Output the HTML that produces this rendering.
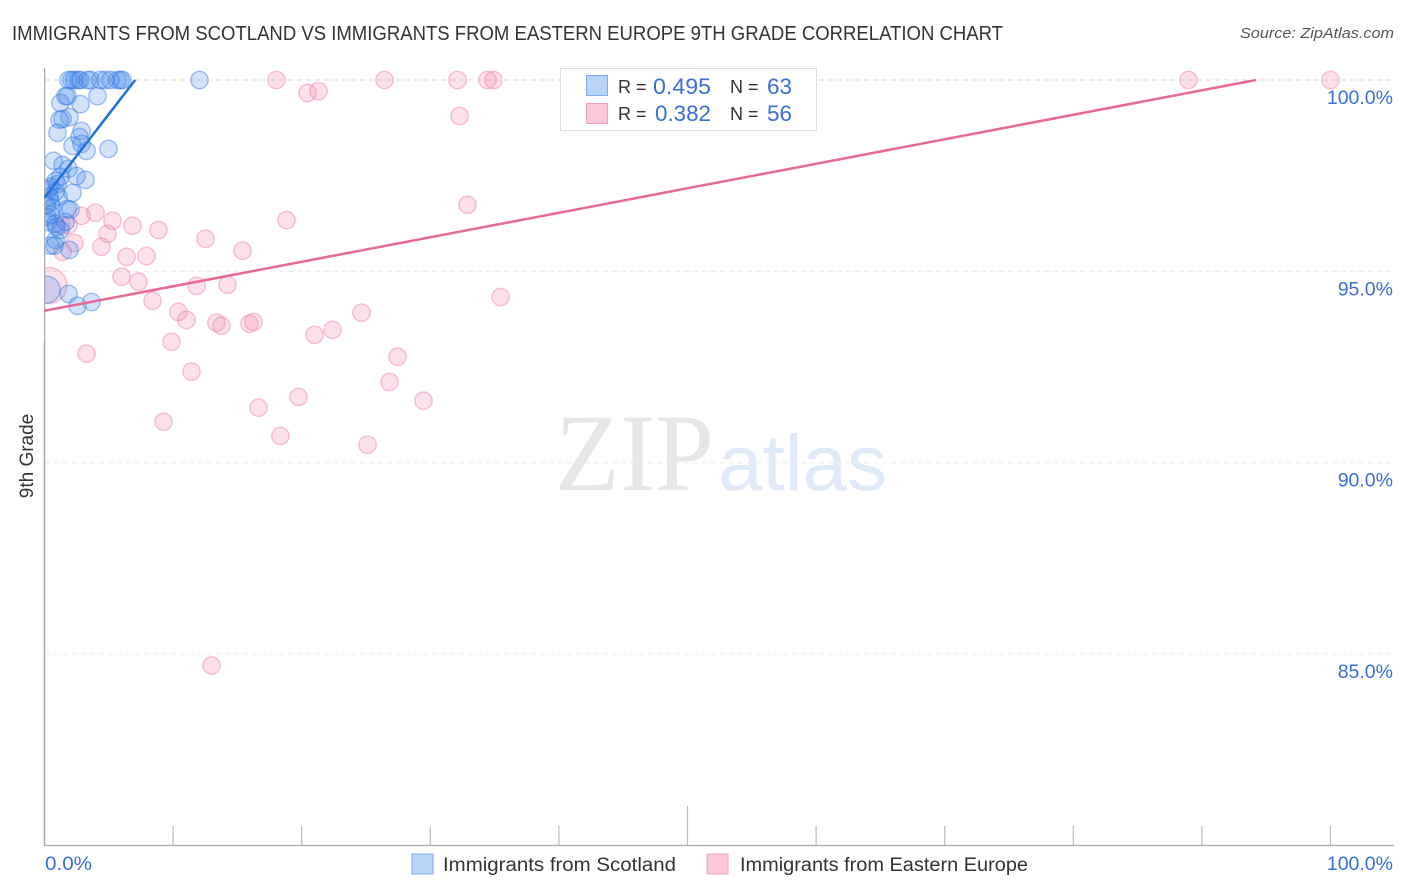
<!DOCTYPE html>
<html lang="en">
<head>
<meta charset="utf-8">
<title>Immigrants from Scotland vs Immigrants from Eastern Europe 9th Grade Correlation Chart</title>
<style>
html,body{margin:0;padding:0;background:#fff;width:1406px;height:892px;overflow:hidden}
body{position:relative}
svg{display:block;font-family:"Liberation Sans",sans-serif}
#left-mask{position:absolute;left:0;top:60px;width:44px;height:280px;background:#fff;z-index:5}
</style>
</head>
<body>
<svg id="chart" width="1406" height="892" viewBox="0 0 1406 892">
<text x="12" y="40" font-size="20" fill="#333" textLength="991" lengthAdjust="spacingAndGlyphs">IMMIGRANTS FROM SCOTLAND VS IMMIGRANTS FROM EASTERN EUROPE 9TH GRADE CORRELATION CHART</text>
<text x="1394" y="38" font-size="15" font-style="italic" fill="#555" text-anchor="end" textLength="154" lengthAdjust="spacingAndGlyphs">Source: ZipAtlas.com</text>
<text x="555" y="490" font-family="'Liberation Serif',serif" font-size="110" fill="#e6e6e6" textLength="159" lengthAdjust="spacingAndGlyphs">ZIP</text>
<text x="718" y="490" font-size="79" fill="#dfe9f8" textLength="169" lengthAdjust="spacingAndGlyphs">atlas</text>
<g id="grid"></g>
<g id="points-pink"></g>
<g id="points-blue"></g>
<rect x="0" y="60" width="44" height="280" fill="#fff"/>
<g id="axes"></g>
<g id="trends"></g>
<text x="33" y="456" font-size="19" fill="#333" text-anchor="middle" transform="rotate(-90 33 456)">9th Grade</text>

<g>
<rect x="560.5" y="68.5" width="256" height="62" fill="#fff" fill-opacity="0.92" stroke="#ddd"/>
<rect x="586.5" y="75.5" width="21" height="20" fill="#b8d4f7" stroke="#7fabe8"/>
<rect x="586.5" y="103.5" width="21" height="20" fill="#fcc8d9" stroke="#f2a0bb"/>
<text x="618" y="93" font-size="18" fill="#333">R =</text>
<text x="653" y="94" font-size="22" fill="#3a6fd8" textLength="58" lengthAdjust="spacingAndGlyphs">0.495</text>
<text x="730" y="93" font-size="18" fill="#333">N =</text>
<text x="767" y="94" font-size="22" fill="#3a6fd8" textLength="25" lengthAdjust="spacingAndGlyphs">63</text>
<text x="618" y="120" font-size="18" fill="#333">R =</text>
<text x="655" y="121" font-size="22" fill="#3a6fd8" textLength="56" lengthAdjust="spacingAndGlyphs">0.382</text>
<text x="730" y="120" font-size="18" fill="#333">N =</text>
<text x="767" y="121" font-size="22" fill="#3a6fd8" textLength="25" lengthAdjust="spacingAndGlyphs">56</text>
</g>

<g>
<rect x="412" y="854" width="21" height="20" fill="#b8d4f7" stroke="#7fabe8"/>
<text x="443" y="871" font-size="19" fill="#333" textLength="233" lengthAdjust="spacingAndGlyphs">Immigrants from Scotland</text>
<rect x="707" y="854" width="21" height="20" fill="#fcc8d9" stroke="#f2a0bb"/>
<text x="740" y="871" font-size="19" fill="#333" textLength="288" lengthAdjust="spacingAndGlyphs">Immigrants from Eastern Europe</text>
</g>
</svg>
<div id="left-mask"></div>
<script>
var yTickValues = [100, 95, 90, 85];
var yTickLabels = ["100.0%", "95.0%", "90.0%", "85.0%"];
var xTickValues = [0, 10, 20, 30, 40, 50, 60, 70, 80, 90, 100];
var xEndLabels = ["0.0%", "100.0%"];

var blueX = [2.1,1.87,2.33,2.64,2.8,3.34,3.58,4.35,4.74,5.13,5.68,5.91,6.07,12.05,1.63,1.79,4.12,1.24,2.8,1.94,1.17,1.4,2.88,2.72,1.01,2.18,2.88,3.27,4.98,0.7,1.4,1.87,2.49,1.24,3.19,0.86,2.18,0.47,0.31,1.01,0.86,0.39,1.09,0.47,0.16,0.62,1.79,2.02,1.63,0.23,0.31,0.86,1.24,0.86,0.78,1.94,0.47,1.87,2.57,3.65,0.47,0.93];
var blueY = [100,100,100,100,100,100,100,100,100,100,100,100,100,100,99.58,99.58,99.58,99.4,99.37,99.03,98.96,98.98,98.67,98.51,98.62,98.28,98.33,98.15,98.2,97.89,97.78,97.68,97.49,97.47,97.39,97.36,97.05,97.21,97.13,97.28,97.08,96.95,96.95,96.81,96.74,96.66,96.63,96.61,96.29,96.42,96.29,96.24,96.08,95.82,95.67,95.56,95.67,94.41,94.1,94.2,96.48,96.16];
var blueLargeX = [0.16];
var blueLargeY = [94.52];

var pinkX = [18.04,26.44,32.12,34.45,34.91,88.96,100,50.23,20.45,21.31,32.27,32.89,18.82,3.97,2.88,5.29,1.87,6.84,8.86,4.9,12.52,15.4,2.33,4.43,1.4,7.93,6.38,5.99,7.31,11.82,14.23,35.46,8.4,10.42,11.04,24.65,13.37,13.76,15.94,16.25,22.4,21.0,9.88,3.27,27.45,11.43,26.83,19.75,29.47,16.64,9.25,18.35,25.12,12.99,1.3];
var pinkY = [100,100,100,100,100,100,100,100,99.66,99.71,99.06,96.74,96.34,96.53,96.45,96.32,96.21,96.19,96.08,95.98,95.85,95.54,95.74,95.64,95.51,95.4,95.38,94.86,94.73,94.62,94.65,94.33,94.23,93.94,93.73,93.92,93.66,93.58,93.63,93.68,93.47,93.34,93.16,92.85,92.77,92.38,92.11,91.72,91.62,91.44,91.07,90.7,90.47,84.7,96.2];
var pinkLargeX = [0.35];
var pinkLargeY = [94.63];

var blueTrendX = [0, 7.05];
var blueTrendY = [96.93, 100];
var pinkTrendX = [0, 94.2];
var pinkTrendY = [93.97, 100];

var NS = "http://www.w3.org/2000/svg";
function xScale(v) { return 44.5 + v * 12.86; }
function yScale(v) { return 80 + (100 - v) * 38.27; }
function make(tag, attrs, parent) {
  var el = document.createElementNS(NS, tag);
  for (var k in attrs) el.setAttribute(k, attrs[k]);
  parent.appendChild(el);
  return el;
}
var grid = document.getElementById("grid");
var axes = document.getElementById("axes");

yTickValues.forEach(function (v, i) {
  var line = make("line", {x1: 45, x2: 1393, y1: yScale(v), y2: yScale(v), stroke: i === 0 ? "#d8d8d8" : "#ececec", "stroke-width": 1, "stroke-dasharray": "5 4"}, grid);
  
  
  var label = make("text", {x: 1393, y: yScale(v) + 24, "font-size": 19.5, fill: "#3a6fd8", "text-anchor": "end"}, axes);
  label.textContent = yTickLabels[i];
  
  
});

var yAxisLine = make("line", {x1: 44.5, x2: 44.5, y1: 68, y2: 846, stroke: "#aaa", "stroke-width": 1.5}, axes);


var xAxisLine = make("line", {x1: 44, x2: 1394, y1: 845.5, y2: 845.5, stroke: "#aaa", "stroke-width": 1.2}, axes);



xTickValues.forEach(function (v, i) {
  if (i === 0) return;
  var tick = make("line", {x1: xScale(v), x2: xScale(v), y1: i === 5 ? 806 : 826, y2: 845, stroke: "#bbb", "stroke-width": 1.2}, axes);
  
  
});

var xLabelStart = make("text", {x: 45, y: 870, "font-size": 19.5, fill: "#3a6fd8", textLength: 47, lengthAdjust: "spacingAndGlyphs"}, axes);
xLabelStart.textContent = xEndLabels[0];


var xLabelEnd = make("text", {x: 1393, y: 870, "font-size": 19.5, fill: "#3a6fd8", "text-anchor": "end"}, axes);
xLabelEnd.textContent = xEndLabels[1];



function drawPoints(groupId, xs, ys, radius, fill, stroke) {
  var group = document.getElementById(groupId);
  xs.forEach(function (x, i) {
    var c = make("circle", {cx: xScale(x), cy: yScale(ys[i]), r: radius, fill: fill, stroke: stroke, "stroke-width": 1.4}, group);
    
    
  });
}
var pinkFill = "rgba(244,130,165,0.24)", pinkStroke = "rgba(236,120,158,0.42)";
var blueFill = "rgba(70,140,235,0.25)", blueStroke = "rgba(40,115,225,0.42)";
drawPoints("points-pink", pinkLargeX, pinkLargeY, 18, pinkFill, pinkStroke);
drawPoints("points-pink", pinkX, pinkY, 8.7, pinkFill, pinkStroke);
drawPoints("points-blue", blueLargeX, blueLargeY, 13.5, blueFill, blueStroke);
drawPoints("points-blue", blueX, blueY, 8.7, blueFill, blueStroke);

var trends = document.getElementById("trends");
var blueTrend = make("line", {x1: xScale(blueTrendX[0]), y1: yScale(blueTrendY[0]), x2: xScale(blueTrendX[1]), y2: yScale(blueTrendY[1]), stroke: "#1f6fdc", "stroke-width": 2.5}, trends);


var pinkTrend = make("line", {x1: xScale(pinkTrendX[0]), y1: yScale(pinkTrendY[0]), x2: xScale(pinkTrendX[1]), y2: yScale(pinkTrendY[1]), stroke: "#e8689a", "stroke-width": 2.5}, trends);


</script>
</body>
</html>
